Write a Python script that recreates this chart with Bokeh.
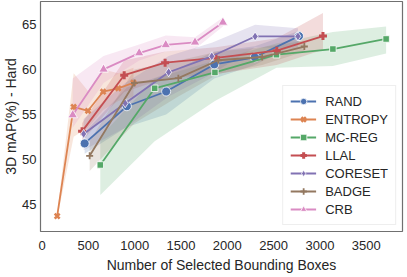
from bokeh.plotting import figure
from bokeh.models import Range1d, FixedTicker, Legend, LegendItem
from bokeh.embed import file_html
from bokeh.resources import INLINE

# ---- data ----
methods = ["RAND", "ENTROPY", "MC-REG", "LLAL", "CORESET", "BADGE", "CRB"]

rand_x = [459, 915, 1339, 1859, 2297, 2774]
rand_y = [51.76, 55.91, 57.55, 60.57, 61.37, 63.73]
rand_lo = [50.6, 53.6, 55.0, 59.0, 60.5, 63.0]
rand_hi = [53.0, 58.0, 59.5, 62.0, 62.6, 64.3]

entropy_x = [162, 340, 495, 658, 822, 986]
entropy_y = [43.66, 55.83, 55.40, 57.53, 57.91, 58.53]
entropy_lo = [43.4, 52.5, 53.5, 55.5, 56.5, 57.0]
entropy_hi = [43.9, 59.6, 57.6, 60.0, 59.6, 60.2]

mcreg_x = [628, 1215, 1866, 2531, 3140, 3715]
mcreg_y = [49.36, 57.91, 59.68, 61.66, 62.29, 63.41]
mcreg_lo = [46.0, 52.0, 56.5, 60.2, 60.4, 61.8]
mcreg_hi = [52.5, 59.0, 61.0, 62.9, 64.2, 64.8]

llal_x = [431, 886, 1328, 1877, 2534, 3033]
llal_y = [53.11, 59.37, 60.77, 61.31, 62.11, 63.73]
llal_lo = [52.0, 57.5, 59.0, 59.5, 60.5, 62.2]
llal_hi = [54.0, 61.0, 62.0, 62.5, 63.5, 66.3]

coreset_x = [448, 897, 1366, 1832, 2300, 2763]
coreset_y = [52.82, 56.24, 59.70, 61.48, 63.69, 63.71]
coreset_lo = [51.0, 53.5, 57.0, 59.5, 62.5, 62.3]
coreset_hi = [54.5, 58.5, 61.5, 63.0, 65.0, 64.6]

badge_x = [513, 997, 1471, 1902, 2376, 2832]
badge_y = [50.38, 58.50, 59.04, 61.04, 61.40, 62.57]
badge_lo = [48.7, 54.0, 57.0, 59.5, 60.5, 62.0]
badge_hi = [52.0, 60.0, 61.0, 62.0, 62.5, 63.2]

crb_x = [330, 663, 1048, 1335, 1651, 1952]
crb_y = [54.93, 60.02, 61.84, 62.75, 63.04, 65.26]
crb_lo = [53.5, 58.5, 61.0, 62.0, 62.3, 64.8]
crb_hi = [59.0, 61.5, 62.8, 63.8, 63.6, 65.8]

x_ticks = [0, 500, 1000, 1500, 2000, 2500, 3000, 3500]
y_ticks = [45, 50, 55, 60, 65]

series = [
    (rand_x, rand_y, rand_lo, rand_hi),
    (entropy_x, entropy_y, entropy_lo, entropy_hi),
    (mcreg_x, mcreg_y, mcreg_lo, mcreg_hi),
    (llal_x, llal_y, llal_lo, llal_hi),
    (coreset_x, coreset_y, coreset_lo, coreset_hi),
    (badge_x, badge_y, badge_lo, badge_hi),
    (crb_x, crb_y, crb_lo, crb_hi),
]

colors = ["#4C72B0", "#DD8452", "#55A868", "#C44E52", "#8172B3", "#937860", "#DA8BC3"]
# marker, size, filled, line width
markers = [
    ("circle", 9, True, 0.8),
    ("x", 7, False, 2.6),
    ("square", 6.5, True, 0.8),
    ("cross", 8, False, 3.0),
    ("diamond", 9, True, 0.8),
    ("cross", 7, False, 1.8),
    ("triangle", 9.5, True, 0.8),
]

FONT = "Liberation Sans"
TXT = "#262626"

p = figure(frame_width=362, frame_height=230, output_backend="svg", toolbar_location=None,
           x_range=Range1d(-18, 3892), y_range=Range1d(41.94, 67.59),
           min_border_left=0, min_border_right=3, min_border_top=1, min_border_bottom=0)

p.grid.visible = False
p.outline_line_color = "#707070"
p.outline_line_width = 1.2
p.background_fill_color = "white"

for ax in (p.xaxis, p.yaxis):
    ax.axis_line_color = None
    ax.major_tick_line_color = None
    ax.minor_tick_line_color = None
    ax.major_tick_out = 0
    ax.major_tick_in = 0
    ax.minor_tick_out = 0
    ax.minor_tick_in = 0
    ax.major_label_text_font = FONT
    ax.major_label_text_font_size = "13px"
    ax.major_label_text_color = TXT
    ax.major_label_text_line_height = 1.0
    ax.axis_label_text_font = FONT
    ax.axis_label_text_font_size = "14px"
    ax.axis_label_text_font_style = "normal"
    ax.axis_label_text_color = TXT
    ax.axis_label_text_line_height = 1.0

p.xaxis.ticker = FixedTicker(ticks=x_ticks)
p.yaxis.ticker = FixedTicker(ticks=y_ticks)
p.xaxis.axis_label = "Number of Selected Bounding Boxes"
p.yaxis.axis_label = "3D mAP(%) - Hard"
p.xaxis.major_label_standoff = 9
p.yaxis.major_label_standoff = 4
p.xaxis.axis_label_standoff = 4
p.yaxis.axis_label_standoff = 0

# bands first (drawn under all lines)
for (xs, ys, lo, hi), c in zip(series, colors):
    p.varea(x=xs, y1=lo, y2=hi, fill_color=c, fill_alpha=0.2)

items = []
for name, (xs, ys, lo, hi), c, (mk, sz, filled, lw) in zip(methods, series, colors, markers):
    r_line = p.line(xs, ys, line_color=c, line_width=1.8)
    if filled:
        r_mk = p.scatter(xs, ys, marker=mk, size=sz, fill_color=c, line_color="white", line_width=lw)
    else:
        r_mk = p.scatter(xs, ys, marker=mk, size=sz, line_color=c, line_width=lw)
    items.append(LegendItem(label=name, renderers=[r_line, r_mk]))

legend = Legend(items=items, location="bottom_right")
legend.label_text_font = FONT
legend.label_text_font_size = "13px"
legend.label_text_color = TXT
legend.glyph_width = 26
legend.glyph_height = 16
legend.label_height = 16
legend.label_width = 62
legend.label_standoff = 9
legend.spacing = 2
legend.padding = 7
legend.margin = 6
legend.border_line_color = "#dddddd"
legend.border_line_width = 1
legend.background_fill_alpha = 0.85
p.add_layout(legend, "center")

open("out.html", "w").write(file_html(p, INLINE))
